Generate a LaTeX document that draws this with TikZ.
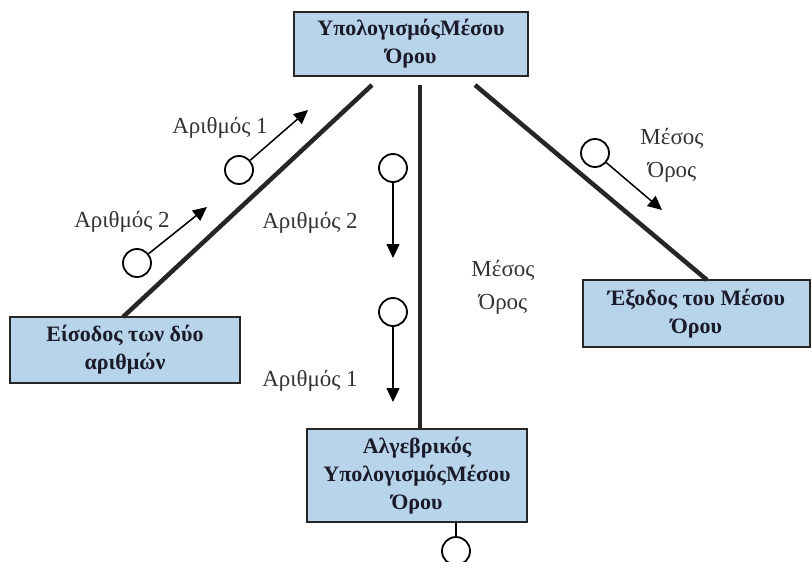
\documentclass[tikz,border=0pt]{standalone}
\usepackage{fontspec}
\setmainfont{Liberation Serif}
\usetikzlibrary{arrows.meta,calc}
\definecolor{boxfill}{HTML}{B7D4EA}
\definecolor{boxtext}{HTML}{1A1A28}
\definecolor{labtext}{HTML}{333333}
\tikzset{
  module/.style={draw=black!85, line width=1.8pt, fill=boxfill, align=center, inner sep=0pt,
    font=\fontsize{22}{28}\selectfont\bfseries, text=boxtext},
  link/.style={line width=4.5pt, draw=black!85},
  couple/.style={circle, draw=black, line width=1.8pt, fill=white, minimum size=28pt, inner sep=0pt},
  flow/.style={line width=1.5pt, -{Triangle[length=14pt,width=13pt]}},
  lab/.style={font=\fontsize{23}{33}\selectfont, text=labtext, align=center, inner sep=0pt}
}
\begin{document}
\begin{tikzpicture}[x=1pt,y=-1pt]
\useasboundingbox (0,0) rectangle (812,562);
% modules
\node[module, minimum width=234pt, minimum height=64pt] (top) at (411,44) {ΥπολογισμόςΜέσου\\Όρου};
\node[module, minimum width=230pt, minimum height=66pt] (inp) at (125,350) {Είσοδος των δύο\\αριθμών};
\node[module, minimum width=220pt, minimum height=93pt] (alg) at (417,475.5) {Αλγεβρικός\\ΥπολογισμόςΜέσου\\Όρου};
\node[module, minimum width=227pt, minimum height=67pt] (out) at (696.5,313.5) {Έξοδος του Μέσου\\Όρου};
% connector ends
\coordinate (tl) at (372,85);
\coordinate (tm) at (420,85);
\coordinate (tr) at (475,85);
\coordinate (il) at (123,317);
\coordinate (am) at (420,429);
\coordinate (or) at (707,280);
\draw[link] (tl) -- (il);
\draw[link] (tm) -- (am);
\draw[link] (tr) -- (or);
% couples
\node[couple] (c1) at (239,170) {};
\coordinate (e1) at (308,110);
\draw[flow] (c1) -- (e1);
\node[lab] (l1) at (220,128) {Αριθμός 1};
\node[couple] (c2) at (137,263) {};
\coordinate (e2) at (207,207);
\draw[flow] (c2) -- (e2);
\node[lab] (l2) at (122,222) {Αριθμός 2};
\node[couple] (c3) at (393,168) {};
\coordinate (e3) at (393,258);
\draw[flow] (c3) -- (e3);
\node[lab] (l3) at (310,223) {Αριθμός 2};
\node[couple] (c4) at (393,312) {};
\coordinate (e4) at (393,402);
\draw[flow] (c4) -- (e4);
\node[lab] (l4) at (310,381) {Αριθμός 1};
\node[lab] (l5) at (503,287) {Μέσος\\Όρος};
\node[couple] (c6) at (595,153) {};
\coordinate (e6) at (662,210);
\draw[flow] (c6) -- (e6);
\node[lab] (l6) at (672,155) {Μέσος\\Όρος};
% bottom couple
\node[couple] (c7) at (456,551) {};
\draw[line width=1.8pt] (alg.south -| c7) -- (c7);
\end{tikzpicture}
\end{document}
